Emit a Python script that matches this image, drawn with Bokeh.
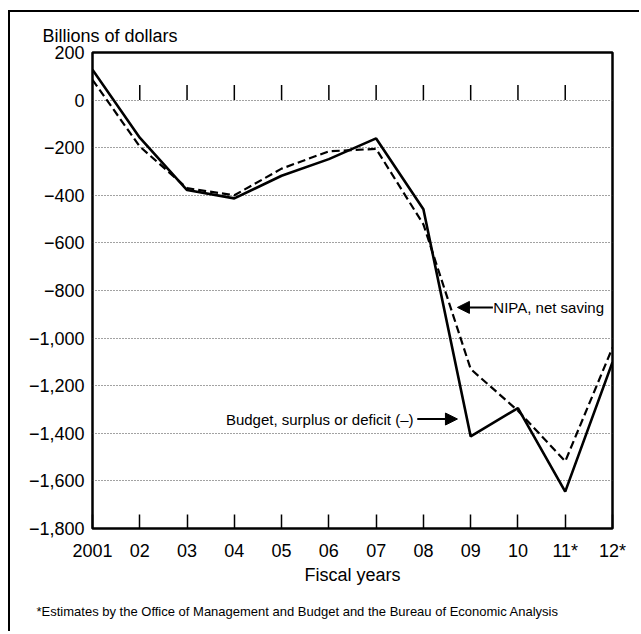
from bokeh.plotting import figure
from bokeh.models import (Label, Arrow, NormalHead, FixedTicker, Range1d, Title)
from bokeh.embed import file_html
from bokeh.resources import INLINE

# ---- data ----
years = [2001, 2002, 2003, 2004, 2005, 2006, 2007, 2008, 2009, 2010, 2011, 2012]
year_labels = ["2001", "02", "03", "04", "05", "06", "07", "08", "09", "10", "11*", "12*"]
budget = [128, -158, -378, -413, -318, -248, -161, -459, -1413, -1294, -1645, -1101]
nipa = [85, -195, -370, -400, -288, -215, -205, -522, -1130, -1305, -1518, -1040]
y_ticks = [200, 0, -200, -400, -600, -800, -1000, -1200, -1400, -1600, -1800]
grid_ticks = [0, -200, -400, -600, -800, -1000, -1200, -1400, -1600]

def fmt(v):
    s = f"{abs(v):,}"
    return ("\u2212" + s) if v < 0 else s

y_labels = {v: fmt(v) for v in y_ticks}

FONT = "Liberation Sans"

W, H = 631, 621
LEFT, RIGHT, TOP, BOTTOM = 82, 29, 40, 105
y_lo, y_hi = -1800, 200
frame_h = H - TOP - BOTTOM
px = (y_hi - y_lo) / frame_h  # data units per pixel

p = figure(width=W, height=H, x_range=Range1d(2001, 2012), y_range=Range1d(y_lo, y_hi),
           output_backend="svg", toolbar_location=None,
           min_border_left=LEFT, min_border_right=RIGHT, min_border_top=TOP,
           min_border_bottom=BOTTOM)
p.styles = {"margin-left": "8px", "margin-top": "10px",
            "border-left": "2px solid black", "border-top": "2px solid black"}
p.background_fill_color = "white"
p.border_fill_color = "white"
p.outline_line_color = "black"
p.outline_line_width = 2.5

# grid
p.xgrid.visible = False
p.ygrid.ticker = FixedTicker(ticks=grid_ticks)
p.ygrid.grid_line_color = "#444444"
p.ygrid.grid_line_dash = "1 2"
p.ygrid.grid_line_width = 1

# x axis
xa = p.xaxis[0]
xa.ticker = FixedTicker(ticks=years)
xa.major_label_overrides = {y: l for y, l in zip(years, year_labels)}
xa.major_tick_in = 14
xa.major_tick_out = 0
xa.major_tick_line_color = "black"
xa.major_tick_line_width = 1.5
xa.minor_tick_line_color = None
xa.axis_line_color = None
xa.major_label_text_font = FONT
xa.major_label_text_font_size = "18px"
xa.major_label_text_color = "black"
xa.major_label_standoff = 12
xa.axis_label = "Fiscal years"
xa.axis_label_text_font = FONT
xa.axis_label_text_font_size = "18px"
xa.axis_label_text_font_style = "normal"
xa.axis_label_text_color = "black"
xa.axis_label_standoff = 1

# y axis
ya = p.yaxis[0]
ya.ticker = FixedTicker(ticks=y_ticks)
ya.major_label_overrides = y_labels
ya.major_tick_in = 0
ya.major_tick_out = 0
ya.minor_tick_line_color = None
ya.axis_line_color = None
ya.major_label_text_font = FONT
ya.major_label_text_font_size = "18px"
ya.major_label_text_color = "black"
ya.major_label_standoff = 8

# ticks on the zero line
tick_len = 15 * px
inner = years[1:-1]
p.segment(x0=inner, y0=[0] * len(inner), x1=inner, y1=[tick_len] * len(inner),
          line_color="black", line_width=1.5)

# series
p.line(years, nipa, line_color="black", line_width=2.2, line_dash="8 4")
p.line(years, budget, line_color="black", line_width=2.6)

# annotations
nipa_lbl = (2009.48, -871)
bud_lbl = (2007.79, -1340)
p.add_layout(Label(x=nipa_lbl[0], y=nipa_lbl[1], text="NIPA, net saving",
                   text_font=FONT, text_font_size="15px", text_baseline="middle",
                   text_align="left", text_color="black"))
p.add_layout(Arrow(x_start=nipa_lbl[0] - 0.01, y_start=nipa_lbl[1],
                   x_end=2008.72, y_end=nipa_lbl[1],
                   line_width=2, line_color="black",
                   end=NormalHead(size=12, fill_color="black", line_color="black")))
p.add_layout(Label(x=bud_lbl[0], y=bud_lbl[1], text="Budget, surplus or deficit (\u2013)",
                   text_font=FONT, text_font_size="15px", text_baseline="middle",
                   text_align="right", text_color="black"))
p.add_layout(Arrow(x_start=bud_lbl[0] + 0.08, y_start=bud_lbl[1],
                   x_end=2008.72, y_end=bud_lbl[1],
                   line_width=2, line_color="black",
                   end=NormalHead(size=12, fill_color="black", line_color="black")))

# y axis title
p.add_layout(Title(text="Billions of dollars", align="left", offset=-50,
                   text_font=FONT, text_font_size="18px", text_font_style="normal",
                   text_color="black", standoff=14), "above")

# footnote
p.add_layout(Title(text="*Estimates by the Office of Management and Budget and the Bureau of Economic Analysis",
                   align="left", offset=-56, text_font=FONT, text_font_size="13px",
                   text_font_style="normal", text_color="black", standoff=28), "below")

open("out.html", "w").write(file_html(p, INLINE))
